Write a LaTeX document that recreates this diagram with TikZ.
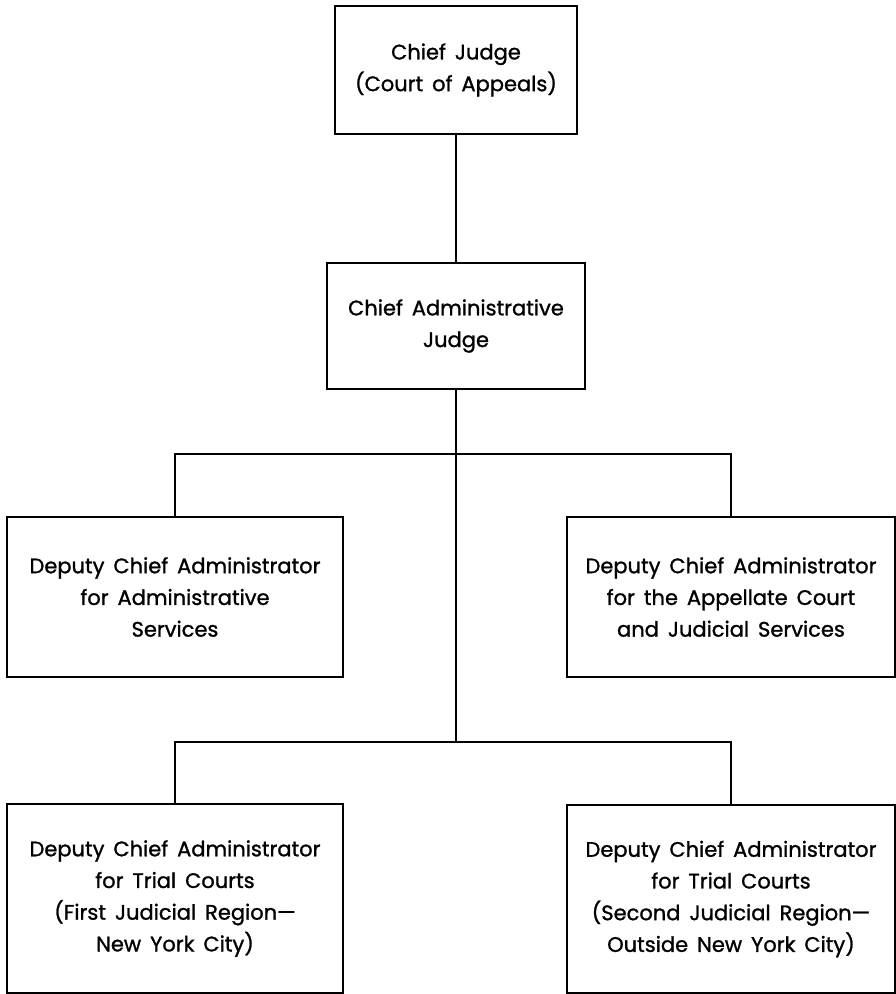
\documentclass[tikz,border=0pt]{standalone}
\usepackage{fontspec}
\setmainfont{Poppins}[FakeBold=1.2,WordSpace=1.6]
\begin{document}
\begin{tikzpicture}[x=1pt,y=-1pt,
  box/.style={draw,line width=1.6pt,align=center,inner sep=0pt,
    font=\fontsize{21}{31.7}\selectfont},
  conn/.style={line width=1.6pt}]
\useasboundingbox (0,0) rectangle (896,994);
\node[box,minimum width=242pt,minimum height=128pt] (cj) at (456,70) {Chief Judge\\(Court of Appeals)};
\node[box,minimum width=258pt,minimum height=126pt] (cad) at (456,326) {Chief Administrative\\Judge};
\node[box,minimum width=336pt,minimum height=160pt] (dcaA) at (175,597) {Deputy Chief Administrator\\for Administrative\\Services};
\node[box,minimum width=328pt,minimum height=160pt] (dcaB) at (731,597) {Deputy Chief Administrator\\for the Appellate Court\\and Judicial Services};
\node[box,minimum width=336pt,minimum height=189pt] (dcaC) at (175,898.5) {Deputy Chief Administrator\\for Trial Courts\\(First Judicial Region---\\New York City)};
\node[box,minimum width=328pt,minimum height=188pt] (dcaD) at (731,899) {Deputy Chief Administrator\\for Trial Courts\\(Second Judicial Region---\\Outside New York City)};
\coordinate (j1) at (455,454);
\coordinate (j2) at (455,742);
\draw[conn] (cj.south) -- (cad.north);
\draw[conn] (cad.south) -- (cad.south |- j2);
\draw[conn] (dcaA.north) |- (j1) -| (dcaB.north);
\draw[conn] (dcaC.north) |- (j2) -| (dcaD.north);
\end{tikzpicture}
\end{document}
